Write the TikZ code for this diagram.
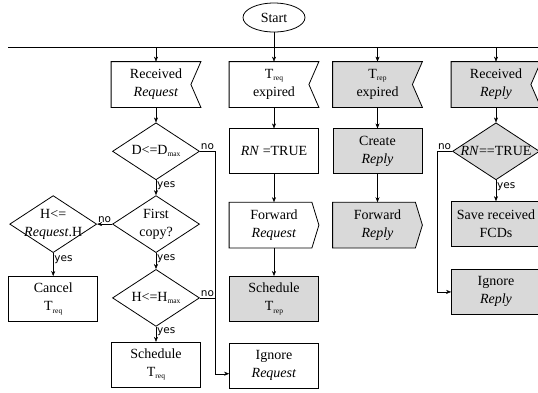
\documentclass[tikz,border=0pt]{standalone}
\usepackage{fontspec}
\setmainfont{Liberation Serif}
\newfontfamily\yesnofont{DejaVu Sans}
\usetikzlibrary{shapes.geometric,arrows.meta,positioning}
\definecolor{boxgray}{RGB}{217,217,217}
\newcommand{\lowtxt}[1]{\raisebox{-0.35ex}{\fontsize{7.5}{7.5}\selectfont #1}}
\pgfdeclarelayer{bg}
\pgfsetlayers{bg,main}
\tikzset{base/.style={draw, align=center, inner sep=2pt, font=\fontsize{14}{18}\selectfont}}
\tikzset{proc/.style={base, rectangle, minimum width=89pt, minimum height=45pt}}
\tikzset{event/.style={proc, draw=none}}
\tikzset{fwd/.style={proc, draw=none}}
\tikzset{outline/.style={draw, line width=0.8pt}}
\tikzset{dec/.style={base, diamond, minimum width=87pt, minimum height=57pt, inner sep=0pt}}
\tikzset{dtext/.style={align=center, inner sep=0pt, font=\fontsize{14}{18}\selectfont}}
\tikzset{shaded/.style={fill=boxgray}}
\tikzset{yn/.style={font=\yesnofont\fontsize{10.5}{12}\selectfont, inner sep=1pt}}

\begin{document}
\begin{tikzpicture}[x=1pt, y=-1pt, >={Stealth[length=5pt, width=4pt]}, line width=0.8pt]
\useasboundingbox (0,0) rectangle (538,392);
\clip (0,0) rectangle (538,392);
\node[base, ellipse, minimum width=62pt, minimum height=29pt, inner sep=0pt] (start) at (274,17.5) {Start};
\coordinate (busL) at (8,47);
\coordinate (busR) at (540,47);
% events
\node[event] (rcvreq) at (156,84.5) {Received\\\textit{Request}};
\node[event] (treq) at (274,84.5) {T\lowtxt{req}\\expired};
\node[event] (trep) at (377.5,84.5) {T\lowtxt{rep}\\expired};
\node[event] (rcvrep) at (496,84.5) {Received\\\textit{Reply}};
% request received
\node[dec, below=15pt of rcvreq, label={[dtext]center:{D<=D\lowtxt{max}}}] (dmax) {};
\node[dec, below=15pt of dmax, label={[dtext]center:{First\\copy?}}] (first) {};
\node[dec, below=16pt of first, label={[dtext]center:{H<=H\lowtxt{max}}}] (hmax) {};
\node[proc, below=15pt of hmax] (schtreq) {Schedule\\T\lowtxt{req}};
\node[dec, left=15pt of first, label={[dtext]center:{H<=\\\textit{Request}.H}}] (hreq) {};
\node[proc, below=23pt of hreq] (cancel) {Cancel\\T\lowtxt{req}};
% timer req
\node[proc, below=21pt of treq] (rntrue) {\textit{RN} =TRUE};
\node[fwd, below=28pt of rntrue] (fwdreq) {Forward\\\textit{Request}};
\node[proc, shaded, below=28pt of fwdreq] (schtrep) {Schedule\\T\lowtxt{rep}};
\node[proc, below=21pt of schtrep] (ignreq) {Ignore\\\textit{Request}};
% timer rep
\node[proc, shaded, below=21pt of trep] (create) {Create\\\textit{Reply}};
\node[fwd, below=28pt of create] (fwdrep) {Forward\\\textit{Reply}};
% reply received
\node[dec, shaded, below=15pt of rcvrep, label={[dtext]center:{\textit{RN}==TRUE}}] (rnchk) {};
\node[proc, shaded, below=21pt of rnchk] (save) {Save received\\FCDs};
\node[proc, shaded, below=22pt of save] (ignrep) {Ignore\\\textit{Reply}};

% notched and pointed outlines
\begin{pgfonlayer}{bg}
\foreach \n/\c in {rcvreq/white, treq/white, trep/boxgray, rcvrep/boxgray}
  \draw[outline, fill=\c] (\n.north west) -- (\n.north east) -- ([xshift=-10pt]\n.east)
    -- (\n.south east) -- (\n.south west) -- cycle;
\foreach \n/\c in {fwdreq/white, fwdrep/boxgray}
  \draw[outline, fill=\c] (\n.north west) -- ([xshift=-7pt]\n.north east) -- (\n.east)
    -- ([xshift=-7pt]\n.south east) -- (\n.south west) -- cycle;
\end{pgfonlayer}

\draw (busL) -- (busR);
\draw[->] (start) -- (treq);
\draw[->] (rcvreq.north |- busL) -- (rcvreq.north);
\draw[->] (trep.north |- busL) -- (trep.north);
\draw[->] (rcvrep.north |- busL) -- (rcvrep.north);

\draw[->] (rcvreq) -- (dmax);
\draw[->] (dmax) -- node[yn, right, pos=0.35] {yes} (first);
\draw[->] (first) -- node[yn, right, pos=0.35] {yes} (hmax);
\draw[->] (hmax) -- node[yn, right, pos=0.35] {yes} (schtreq);
\draw[->] (first) -- node[yn, above] {no} (hreq);
\draw[->] (hreq) -- node[yn, right, pos=0.3] {yes} (cancel);
\draw[->] (dmax.east) -- node[yn, above] {no} ++(15pt,0) |- ([yshift=-8pt]ignreq.west);
\draw (hmax.east) -- node[yn, above] {no} ++(15pt,0);

\draw[->] (treq) -- (rntrue);
\draw[->] (rntrue) -- (fwdreq);
\draw[->] (fwdreq) -- (schtrep);

\draw[->] (trep) -- (create);
\draw[->] (create) -- (fwdrep);

\draw[->] (rcvrep) -- (rnchk);
\draw[->] (rnchk) -- node[yn, right, pos=0.3] {yes} (save);
\draw[->] (rnchk.west) -- node[yn, above] {no} ++(-15pt,0) |- (ignrep.west);
\end{tikzpicture}
\end{document}
